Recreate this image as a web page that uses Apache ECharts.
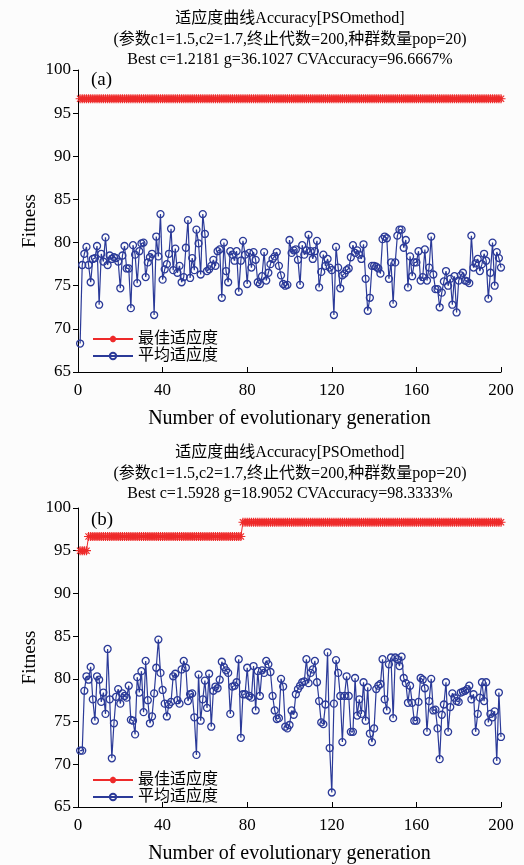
<!DOCTYPE html>
<html>
<head>
<meta charset="utf-8">
<script src="https://cdn.jsdelivr.net/npm/echarts@6/dist/echarts.min.js"></script>
<style>
  html, body { margin: 0; padding: 0; background: #fcfcfc; }
  #main { width: 524px; height: 865px; }
</style>
</head>
<body>
<div id="main"></div>
<script>
// generations run 1..200, one value per generation
const avgA = [
  68.3, 77.4, 78.7, 79.5, 77.4, 75.4, 78.1, 78.2, 79.6, 72.8,
  78.7, 77.8, 80.6, 77.4, 78.5, 78.1, 78.3, 78.2, 77.8, 74.7,
  78.5, 79.6, 77.0, 77.0, 72.4, 79.7, 78.6, 75.3, 79.0, 79.9,
  80.0, 76.0, 77.7, 78.3, 78.7, 71.6, 80.7, 78.4, 83.3, 75.7,
  76.9, 77.5, 78.7, 81.6, 76.8, 79.3, 76.5, 77.3, 75.4, 76.0,
  79.4, 82.6, 75.9, 78.2, 76.8, 81.5, 79.9, 76.3, 83.3, 81.0,
  76.7, 76.9, 77.3, 78.0, 77.3, 79.0, 79.2, 73.6, 80.0, 76.7,
  75.4, 79.0, 78.6, 77.9, 79.0, 74.3, 77.9, 80.2, 78.6, 75.2,
  78.8, 77.1, 78.9, 78.0, 75.4, 75.2, 76.1, 78.9, 75.6, 76.5,
  77.5, 78.1, 78.4, 78.9, 77.3, 76.2, 75.2, 75.0, 75.1, 80.3,
  78.8, 79.1, 79.2, 78.0, 75.1, 79.7, 78.6, 79.1, 80.9, 79.0,
  78.1, 79.0, 80.2, 74.8, 76.6, 78.6, 77.3, 78.1, 77.1, 76.8,
  71.6, 79.5, 77.1, 74.7, 76.2, 76.4, 76.8, 77.0, 78.3, 79.7,
  78.8, 79.1, 78.6, 78.1, 79.8, 75.8, 72.1, 73.6, 77.3, 77.3,
  77.2, 77.0, 76.4, 80.4, 80.7, 80.5, 75.8, 77.7, 72.9, 77.7,
  80.8, 81.5, 81.5, 79.4, 80.3, 74.8, 78.4, 76.1, 77.7, 77.7,
  79.0, 75.6, 76.0, 79.2, 75.6, 77.1, 80.7, 76.3, 74.6, 74.6,
  72.5, 74.2, 75.5, 76.7, 75.0, 75.8, 72.8, 76.1, 71.9, 75.6,
  76.2, 76.5, 75.6, 75.5, 75.3, 80.8, 77.1, 77.6, 78.1, 76.7,
  77.5, 78.7, 77.9, 73.5, 76.5, 80.0, 75.0, 78.9, 78.2, 77.1
];
const avgB = [
  71.6, 71.6, 78.6, 80.3, 79.9, 81.4, 77.6, 75.1, 80.3, 79.9,
  77.3, 78.4, 75.9, 83.5, 77.6, 70.7, 74.8, 77.9, 78.8, 77.1,
  78.3, 78.0, 77.8, 79.2, 75.2, 75.1, 73.5, 80.2, 78.4, 80.9,
  76.1, 82.1, 77.5, 74.8, 75.6, 78.3, 81.3, 84.6, 80.7, 78.7,
  77.1, 75.6, 77.0, 77.3, 80.3, 80.6, 77.5, 77.1, 81.1, 82.1,
  81.3, 77.4, 78.2, 78.3, 75.5, 71.1, 80.5, 75.1, 77.6, 79.8,
  76.6, 80.6, 74.4, 78.6, 79.1, 78.9, 79.9, 82.0, 81.4, 81.0,
  80.7, 75.9, 79.1, 79.2, 79.6, 82.3, 73.1, 78.2, 78.2, 81.3,
  78.0, 77.8, 81.5, 76.3, 80.9, 78.0, 81.0, 80.7, 82.1, 81.7,
  80.8, 78.0, 76.3, 75.3, 75.4, 80.0, 79.1, 74.4, 74.2, 74.6,
  76.3, 75.8, 78.2, 78.8, 79.2, 79.6, 79.7, 82.3, 79.5, 80.7,
  81.1, 82.1, 79.6, 77.4, 74.9, 74.7, 77.0, 83.1, 71.9, 66.7,
  77.1, 82.2, 80.7, 78.0, 72.6, 78.0, 80.3, 78.0, 73.8, 73.8,
  80.1, 75.7, 77.6, 75.9, 79.6, 75.1, 79.0, 73.6, 72.6, 74.2,
  78.8, 79.2, 79.4, 82.3, 77.6, 76.3, 81.7, 82.5, 75.4, 82.5,
  82.3, 81.5, 82.6, 80.1, 79.5, 77.2, 79.2, 77.2, 75.1, 75.1,
  77.3, 80.1, 79.9, 78.9, 73.8, 77.4, 80.0, 76.3, 76.4, 74.2,
  70.6, 75.8, 77.0, 79.6, 73.8, 76.7, 78.3, 77.8, 77.4, 77.3,
  78.4, 78.5, 78.6, 78.8, 79.2, 77.6, 78.2, 73.8, 75.9, 77.8,
  79.6, 77.4, 79.6, 74.9, 75.9, 75.5, 76.2, 70.4, 78.4, 73.2
];
// best fitness as [number of generations, level] runs
const bestRunsA = [[200, 96.6667]];
const bestRunsB = [[4, 95], [73, 96.6667], [123, 98.3333]];

const xTicks = [0, 200, 40];   // min, max, interval
const yTicks = [65, 100, 5];

const titleA = ['适应度曲线Accuracy[PSOmethod]', '(参数c1=1.5,c2=1.7,终止代数=200,种群数量pop=20)', 'Best c=1.2181 g=36.1027 CVAccuracy=96.6667%'];
const titleB = ['适应度曲线Accuracy[PSOmethod]', '(参数c1=1.5,c2=1.7,终止代数=200,种群数量pop=20)', 'Best c=1.5928 g=18.9052 CVAccuracy=98.3333%'];
const names = ['最佳适应度', '平均适应度'];

const SERIF = '"Liberation Serif", "Noto Sans CJK SC", serif';
const RED = '#ee2a2a';
const BLUE = '#2b3a98';
const STAR = 'path://M-5 0L5 0M0 -5L0 5M-3.5 -3.5L3.5 3.5M-3.5 3.5L3.5 -3.5';

function expandRuns(runs) {
  let out = [], x = 1;
  runs.forEach(function (r) {
    for (let k = 0; k < r[0]; k++) out.push([x++, r[1]]);
  });
  return out;
}

function xAxisOf(i) {
  return {
    gridIndex: i, type: 'value', min: xTicks[0], max: xTicks[1], interval: xTicks[2],
    axisLine: { lineStyle: { color: '#000', width: 1 } },
    axisTick: { inside: true, length: 5, lineStyle: { color: '#000' } },
    axisLabel: { color: '#000', fontSize: 17, fontFamily: SERIF, margin: 10 },
    splitLine: { show: false },
    name: 'Number of evolutionary generation', nameLocation: 'middle', nameGap: 37,
    nameMoveOverlap: false,
    nameTextStyle: { color: '#000', fontSize: 20, fontFamily: SERIF }
  };
}
function yAxisOf(i) {
  return {
    gridIndex: i, type: 'value', min: yTicks[0], max: yTicks[1], interval: yTicks[2],
    axisLine: { show: true, onZero: false, lineStyle: { color: '#000', width: 1 } },
    axisTick: { show: true, length: 5, lineStyle: { color: '#000' } },
    axisLabel: { color: '#000', fontSize: 17, fontFamily: SERIF, margin: 7 },
    splitLine: { show: false },
    name: 'Fitness', nameLocation: 'middle', nameGap: 38, nameRotate: 90,
    nameMoveOverlap: false,
    nameTextStyle: { color: '#000', fontSize: 19, fontFamily: SERIF }
  };
}
function bestSeries(i, runs) {
  return {
    name: names[0], type: 'line', xAxisIndex: i, yAxisIndex: i,
    data: expandRuns(runs),
    symbol: STAR, symbolSize: 9, showAllSymbol: true,
    lineStyle: { color: RED, width: 1 },
    itemStyle: { color: RED, borderColor: RED, borderWidth: 1.2 },
    emphasis: { disabled: true }
  };
}
function avgSeries(i, vals) {
  return {
    name: names[1], type: 'line', xAxisIndex: i, yAxisIndex: i,
    data: vals.map(function (v, k) { return [k + 1, v]; }),
    symbol: 'circle', symbolSize: 7, showAllSymbol: true,
    lineStyle: { color: BLUE, width: 1.2 },
    itemStyle: { color: 'rgba(0,0,0,0)', borderColor: BLUE, borderWidth: 1.3 },
    emphasis: { disabled: true }
  };
}
function titleLines(lines, y0) {
  return lines.map(function (t, k) {
    return {
      type: 'text', x: 290, y: y0 + k * 20.5,
      style: { text: t, textAlign: 'center', textVerticalAlign: 'middle', fontSize: 16, fontFamily: SERIF, fill: '#000' }
    };
  });
}
function legendOf(top) {
  return {
    data: names, orient: 'vertical', left: 87, top: top,
    itemWidth: 40, itemHeight: 8, itemGap: 1,
    textStyle: { color: '#000', fontSize: 16, fontFamily: SERIF }
  };
}

const chart = echarts.init(document.getElementById('main'));
chart.setOption({
  animation: false,
  backgroundColor: '#fcfcfc',
  grid: [
    { left: 78, right: 23, top: 70, height: 302 },
    { left: 78, right: 23, top: 508, height: 303 }
  ],
  xAxis: [xAxisOf(0), xAxisOf(1)],
  yAxis: [yAxisOf(0), yAxisOf(1)],
  legend: [legendOf(326), legendOf(767)],
  graphic: titleLines(titleA, 19).concat(titleLines(titleB, 453)).concat([
    { type: 'text', x: 91, y: 80, style: { text: '(a)', textVerticalAlign: 'middle', fontSize: 19, fontFamily: SERIF, fill: '#000' } },
    { type: 'text', x: 91, y: 520, style: { text: '(b)', textVerticalAlign: 'middle', fontSize: 19, fontFamily: SERIF, fill: '#000' } }
  ]),
  series: [
    bestSeries(0, bestRunsA), avgSeries(0, avgA),
    bestSeries(1, bestRunsB), avgSeries(1, avgB)
  ]
});
</script>
</body>
</html>
